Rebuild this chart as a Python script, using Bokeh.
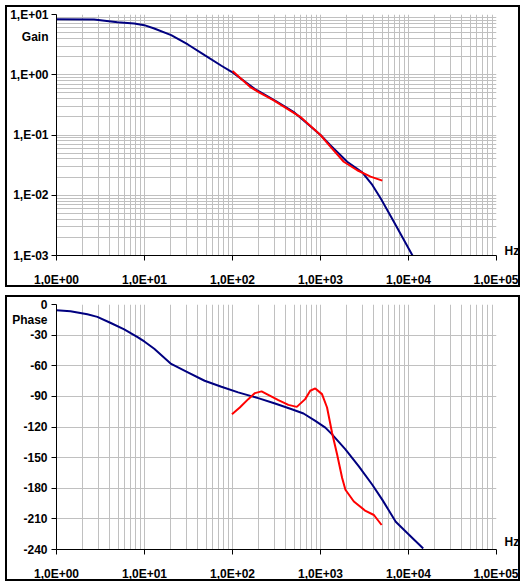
from bokeh.plotting import figure
from bokeh.layouts import column
from bokeh.models import FixedTicker, Range1d, LogAxis, LinearAxis
from bokeh.embed import file_html
from bokeh.resources import INLINE

# ---- data ----
freq_gain_model = [1, 2.67, 4.93, 7.64, 9.95, 12.9, 20.1, 31.1, 48.2, 74.8, 97.7, 180, 205, 318, 493, 701,
                   1000, 1294, 2010, 2980, 3880, 4820, 6840, 11100]
gain_model = [8.36, 8.26, 7.45, 7.09, 6.65, 5.86, 4.54, 3.18, 2.11, 1.41, 1.12, 0.577, 0.52, 0.357, 0.243, 0.156,
              0.1, 0.068, 0.036, 0.024, 0.0148, 0.0089, 0.0036, 0.001]

freq_gain_meas = [100, 158, 205, 291, 588, 1000, 1294, 1837, 2614, 3707, 5040]
gain_meas = [1.15, 0.63, 0.50, 0.38, 0.20, 0.1, 0.064, 0.036, 0.026, 0.0204, 0.0175]

freq_phase_model = [1, 1.44, 2.24, 2.91, 4.14, 5.88, 8.34, 9.95, 12.9, 20.1, 31.1, 48.2, 74.8, 116, 196, 304,
                    472, 641, 873, 1135, 1353, 1920, 2727, 3880, 5050, 7160, 9800, 14700]
phase_model = [-5.6, -6.6, -9.6, -12.1, -18.1, -24.4, -31.9, -36.2, -43.4, -58.2, -66.4, -74.7, -80.6, -86.1,
               -91.7, -97, -102.6, -106.8, -114, -120.6, -127.2, -142, -158.5, -176.6, -191.4, -212.8, -224.3, -239]

freq_phase_meas = [98.6, 121, 151, 180, 214, 255, 332, 432, 538, 670, 764, 873, 1040, 1187, 1353, 1545, 1762,
                   1920, 2393, 3250, 4045, 4950]
phase_meas = [-107.5, -100.9, -92.7, -86.8, -85.1, -88.5, -93.7, -98.3, -100.3, -92.7, -84.5, -82.2, -87.8,
              -100.9, -125.6, -147, -170, -181.5, -193, -202.2, -206.2, -216]

x_ticks = [1, 10, 100, 1000, 10000, 100000]
x_tick_labels = ["1,0E+00", "1,0E+01", "1,0E+02", "1,0E+03", "1,0E+04", "1,0E+05"]
gain_ticks = [0.001, 0.01, 0.1, 1, 10]
gain_tick_labels = ["1,E-03", "1,E-02", "1,E-01", "1,E+00", "1,E+01"]
phase_ticks = [0, -30, -60, -90, -120, -150, -180, -210, -240]
phase_tick_labels = ["0", "-30", "-60", "-90", "-120", "-150", "-180", "-210", "-240"]

FONT = "Liberation Sans"
GRID = "#c0c0c0"
BLUE = "#000080"
RED = "#ff0000"


def minor_decades(lo, hi):
    out = []
    d = lo
    while d < hi:
        out += [d * k for k in range(2, 10)]
        d *= 10
    return out


def text_style(ax, standoff):
    ax.major_label_text_font = FONT
    ax.major_label_text_font_style = "bold"
    ax.major_label_text_font_size = "12px"
    ax.major_label_text_color = "black"
    ax.major_label_standoff = standoff
    ax.axis_label_standoff = 0


def label_axis(ax, ticks, labels, standoff):
    # an axis that only carries texts: no line, no tick marks
    ax.ticker = FixedTicker(ticks=ticks)
    ax.major_label_overrides = dict(zip(ticks, labels))
    ax.axis_line_color = None
    ax.major_tick_line_color = None
    ax.minor_tick_line_color = None
    ax.major_tick_out = 0
    ax.major_tick_in = 0
    text_style(ax, standoff)


def base_style(p, label_standoff_x):
    xa = p.xaxis[0]
    xa.axis_line_color = "black"
    xa.major_tick_line_color = "black"
    xa.major_tick_out = 5
    xa.major_tick_in = 0
    xa.minor_tick_line_color = None
    text_style(xa, label_standoff_x)
    ya = p.yaxis[0]  # tick marks only, labels carried by an outer axis
    ya.axis_line_color = "black"
    ya.major_tick_line_color = "black"
    ya.major_tick_out = 5
    ya.major_tick_in = 0
    ya.minor_tick_line_color = None
    ya.major_label_text_font_size = "1px"
    ya.major_label_text_color = None
    ya.major_label_standoff = 0
    ya.axis_label_standoff = 0
    p.xgrid.grid_line_color = GRID
    p.ygrid.grid_line_color = GRID
    p.xgrid.minor_grid_line_color = GRID
    p.outline_line_color = None
    p.background_fill_color = "white"
    p.border_fill_color = "white"
    p.styles = {"border": "2px solid black", "box-sizing": "border-box"}


# ---- Gain chart ----
p1 = figure(width=515, height=282, x_axis_type="log", y_axis_type="log",
            x_range=Range1d(1, 1e5), y_range=Range1d(1e-3, 10),
            output_backend="svg", toolbar_location=None,
            min_border_left=49, min_border_right=25, min_border_top=7, min_border_bottom=31)
p1.margin = (5, 0, 0, 5)
p1.xaxis.ticker = FixedTicker(ticks=x_ticks, minor_ticks=minor_decades(1, 1e5))
p1.yaxis.ticker = FixedTicker(ticks=gain_ticks, minor_ticks=minor_decades(1e-3, 10))
p1.xaxis.major_label_overrides = dict(zip(x_ticks, x_tick_labels))
base_style(p1, 12)
p1.ygrid.minor_grid_line_color = GRID

gain_text_axis = LogAxis()
label_axis(gain_text_axis, gain_ticks + [4.3], gain_tick_labels + ["Gain"], 3)
p1.add_layout(gain_text_axis, "left")
hz_axis1 = LogAxis()
label_axis(hz_axis1, [0.0012], ["Hz"], 8)
p1.add_layout(hz_axis1, "right")

p1.line(freq_gain_model, gain_model, line_color=BLUE, line_width=2)
p1.line(freq_gain_meas, gain_meas, line_color=RED, line_width=2)

# ---- Phase chart ----
p2 = figure(width=515, height=286, x_axis_type="log",
            x_range=Range1d(1, 1e5), y_range=Range1d(-240, 0),
            output_backend="svg", toolbar_location=None,
            min_border_left=49, min_border_right=25, min_border_top=7, min_border_bottom=32)
p2.margin = (8, 0, 0, 5)
p2.xaxis.ticker = FixedTicker(ticks=x_ticks, minor_ticks=minor_decades(1, 1e5))
p2.yaxis.ticker = FixedTicker(ticks=phase_ticks)
p2.xaxis.major_label_overrides = dict(zip(x_ticks, x_tick_labels))
base_style(p2, 12)

phase_text_axis = LinearAxis()
label_axis(phase_text_axis, phase_ticks + [-14.8], phase_tick_labels + ["Phase"], 4)
p2.add_layout(phase_text_axis, "left")
hz_axis2 = LinearAxis()
label_axis(hz_axis2, [-233], ["Hz"], 8)
p2.add_layout(hz_axis2, "right")

p2.line(freq_phase_model, phase_model, line_color=BLUE, line_width=2)
p2.line(freq_phase_meas, phase_meas, line_color=RED, line_width=2)

layout = column(p1, p2)
open("out.html", "w").write(file_html(layout, INLINE))
